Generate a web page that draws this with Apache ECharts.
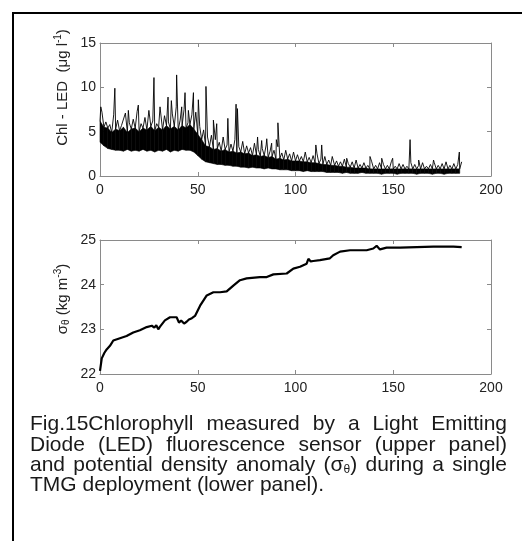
<!DOCTYPE html>
<html>
<head>
<meta charset="utf-8">
<script src="https://cdn.jsdelivr.net/npm/echarts@6/dist/echarts.min.js"></script>
<style>
  html, body { margin: 0; padding: 0; background: #fff; }
  #chart { width: 522px; height: 541px; }
</style>
</head>
<body>
<div id="chart"></div>
<script>
// upper panel: Chl-LED (days 0..185)
// bottom edge of the trace, x = 0,2,4..184
const chlLow = [
    3.8, 3.4, 3.1, 3.0, 2.9, 2.9, 2.8, 3.0, 2.8, 2.9,
    2.8, 3.0, 2.8, 2.9, 2.7, 2.9, 2.8, 3.0, 2.7, 2.9,
    2.8, 3.0, 2.9, 2.9, 2.7, 2.3, 1.9, 1.6, 1.5, 1.4,
    1.3, 1.3, 1.2, 1.2, 1.1, 1.1, 1.0, 1.0, 0.9, 1.0,
    0.9, 0.9, 0.8, 0.9, 0.8, 0.8, 0.7, 0.7, 0.7, 0.6,
    0.6, 0.6, 0.5, 0.6, 0.5, 0.5, 0.5, 0.5, 0.4, 0.4,
    0.4, 0.4, 0.3, 0.4, 0.3, 0.3, 0.3, 0.4, 0.3, 0.3,
    0.3, 0.3, 0.2, 0.3, 0.3, 0.3, 0.2, 0.3, 0.3, 0.3,
    0.3, 0.2, 0.3, 0.3, 0.3, 0.2, 0.3, 0.3, 0.2, 0.3,
    0.3, 0.3, 0.3
];
// top of the solid dark core, x = 0,2,4..184
const chlCore = [
    6.2, 5.5, 5.4, 4.9, 5.3, 5.1, 5.5, 4.9, 5.3, 5.4,
    5.0, 5.4, 5.2, 5.6, 5.1, 5.5, 5.2, 5.7, 5.3, 5.6,
    5.2, 5.7, 5.4, 5.8, 5.3, 4.7, 4.1, 3.4, 3.3, 3.0,
    3.1, 2.8, 3.0, 2.7, 2.8, 2.6, 2.7, 2.5, 2.6, 2.3,
    2.4, 2.2, 2.3, 2.1, 2.2, 1.9, 2.0, 1.8, 1.9, 1.7,
    1.7, 1.7, 1.6, 1.6, 1.5, 1.5, 1.4, 1.3, 1.3, 1.2,
    1.2, 1.1, 1.1, 1.0, 1.0, 0.9, 0.9, 0.9, 0.9, 0.8,
    0.8, 0.8, 0.8, 0.8, 0.8, 0.8, 0.8, 0.8, 0.8, 0.8,
    0.8, 0.8, 0.8, 0.8, 0.8, 0.8, 0.8, 0.8, 0.8, 0.8,
    0.8, 0.8, 0.8
];
// small peaks on top of the core, x = 1,3,5..185
const chlHigh = [
    7.2, 6.1, 5.8, 6.9, 6.3, 5.7, 7.1, 6.0, 6.4, 7.3,
    5.9, 6.6, 7.4, 6.2, 5.9, 7.6, 6.8, 6.1, 7.0, 7.8,
    6.3, 7.5, 6.0, 6.9, 7.2, 5.6, 5.2, 4.4, 4.6, 4.1,
    3.8, 4.4, 3.5, 3.6, 4.1, 3.3, 3.9, 3.4, 3.2, 3.7,
    3.0, 3.1, 3.5, 2.8, 2.9, 3.3, 2.6, 2.9, 2.5, 2.7,
    2.4, 2.2, 2.7, 2.1, 2.3, 2.5, 1.9, 2.2, 1.8, 2.1,
    1.7, 1.6, 1.9, 1.4, 1.6, 1.8, 1.3, 1.5, 1.2, 1.6,
    1.2, 1.5, 1.3, 1.2, 1.6, 1.1, 1.4, 1.3, 1.1, 1.5,
    1.3, 1.2, 1.5, 1.1, 1.3, 1.5, 1.2, 1.4, 1.6, 1.2,
    1.4, 1.3, 1.6
];
// isolated spikes [day, value]
const chlSpikes = [
    [0.4, 7.8], [7.6, 9.9], [14.5, 7.4], [19.6, 8.0], [27.6, 11.1], [30.7, 7.8],
    [34.8, 8.9], [36.5, 8.5], [39.2, 11.4], [41.8, 7.8], [43.5, 9.4], [45.2, 7.4],
    [47.8, 9.4], [50.3, 8.6], [54.2, 10.1], [58.0, 6.3], [59.7, 5.9], [65.4, 6.5],
    [69.6, 8.1], [70.3, 7.6], [80.6, 4.4], [82.7, 4.0], [85.3, 4.2], [87.8, 3.7],
    [90.2, 4.1], [91.0, 6.0], [110.4, 3.5], [113.4, 3.5], [118.8, 2.2], [126.2, 2.0],
    [138.1, 2.2], [144.1, 2.0], [149.7, 2.0], [158.6, 4.1], [163.0, 1.8], [170.6, 1.8],
    [183.8, 2.7]
];

// lower panel: sigma-theta
const sigmaDays = [
    0, 0.9, 2.2, 3.4, 5.1, 5.9, 6.8, 10.2, 13.6, 17,
    20.4, 23.9, 26.5, 27.8, 28.8, 29.8, 30.7, 31.5, 33.2, 35.8,
    39.2, 40.4, 41.5, 43, 44.3, 45.5, 47, 48.6, 51.2, 54.6,
    58, 61.4, 64.8, 68.2, 71.6, 75, 81.8, 85.3, 88.7, 95.5,
    98.9, 102.3, 105.7, 106.6, 107.8, 109.1, 112.5, 117.6, 119.3, 122.8,
    127.9, 136.4, 139.8, 141.5, 143.2, 146.6, 153.5, 170.5, 180.8, 185
];
const sigmaTheta = [
    22.07, 22.35, 22.47, 22.55, 22.63, 22.66, 22.75, 22.8, 22.85, 22.93,
    22.98, 23.05, 23.08, 23.04, 23.09, 23.0, 23.06, 23.1, 23.2, 23.27,
    23.27, 23.15, 23.2, 23.13, 23.17, 23.22, 23.25, 23.3, 23.53, 23.76,
    23.83, 23.83, 23.85, 23.98, 24.1, 24.14, 24.17, 24.17, 24.23, 24.25,
    24.36, 24.4, 24.47, 24.58, 24.52, 24.53, 24.55, 24.59, 24.66, 24.74,
    24.77, 24.77, 24.81, 24.87, 24.79, 24.83, 24.83, 24.85, 24.85, 24.84
];

const xTicks = [0, 50, 100, 150, 200];
const chlTicks = [0, 5, 10, 15];
const sigmaTicks = [22, 23, 24, 25];

const captionLines = [
    ['Fig.15Chlorophyll', 'measured', 'by', 'a', 'Light', 'Emitting'],
    ['Diode', '(LED)', 'fluorescence', 'sensor', '(upper', 'panel)'],
    ['and', 'potential', 'density', 'anomaly', '(σ{θ})', 'during', 'a', 'single'],
    ['TMG', 'deployment', '(lower', 'panel).']
];

// solid core: one quad per step between the bottom edge and the core top
let bandData = [];
for (let i = 0; i < chlLow.length - 1; i++) {
    bandData.push([i * 2, chlLow[i], chlCore[i], i * 2 + 2, chlLow[i + 1], chlCore[i + 1]]);
}
// thin trace on top: core -> peak -> core, plus the isolated spikes
let chlData = [];
chlCore.forEach((v, i) => chlData.push([i * 2, v]));
chlHigh.forEach((v, i) => chlData.push([i * 2 + 1, v]));
chlSpikes.forEach(p => chlData.push(p));
chlData.sort((a, b) => a[0] - b[0]);

const sigmaData = sigmaDays.map((d, i) => [d, sigmaTheta[i]]);

const FONT = '"Liberation Sans", Arial, Helvetica, sans-serif';
const axisGray = '#8a8a8a';
const labelColor = '#222';

function bottomAxis(grid, ticks) {
    return {
        type: 'value', gridIndex: grid, position: 'bottom',
        min: ticks[0], max: ticks[ticks.length - 1], interval: ticks[1] - ticks[0],
        axisLine: { onZero: false, lineStyle: { color: axisGray, width: 1 } },
        axisTick: { inside: true, length: 4, lineStyle: { color: axisGray } },
        axisLabel: { color: labelColor, fontSize: 14, fontFamily: FONT, margin: 7 },
        splitLine: { show: false }
    };
}
function topAxis(grid, ticks) {
    return {
        type: 'value', gridIndex: grid, position: 'top',
        min: ticks[0], max: ticks[ticks.length - 1], interval: ticks[1] - ticks[0],
        axisLine: { onZero: false, lineStyle: { color: axisGray, width: 1 } },
        axisTick: { inside: true, length: 4, lineStyle: { color: axisGray } },
        axisLabel: { show: false },
        splitLine: { show: false }
    };
}
function leftAxis(grid, ticks, name, rich, pad) {
    return {
        type: 'value', gridIndex: grid, position: 'left',
        min: ticks[0], max: ticks[ticks.length - 1], interval: ticks[1] - ticks[0],
        name: name, nameLocation: 'middle', nameGap: 28, nameMoveOverlap: false,
        nameTextStyle: { color: labelColor, fontSize: 15, fontFamily: FONT, rich: rich, padding: pad },
        axisLine: { onZero: false, lineStyle: { color: axisGray, width: 1 } },
        axisTick: { inside: true, length: 4, lineStyle: { color: axisGray } },
        axisLabel: { color: labelColor, fontSize: 14, fontFamily: FONT, margin: 4 },
        splitLine: { show: false }
    };
}
function rightAxis(grid, ticks) {
    return {
        type: 'value', gridIndex: grid, position: 'right',
        min: ticks[0], max: ticks[ticks.length - 1], interval: ticks[1] - ticks[0],
        axisLine: { onZero: false, lineStyle: { color: axisGray, width: 1 } },
        axisTick: { inside: true, length: 4, lineStyle: { color: axisGray } },
        axisLabel: { show: false },
        splitLine: { show: false }
    };
}

// caption, justified word by word
const ctx = document.createElement('canvas').getContext('2d');
function textWidth(s, size) {
    ctx.font = size + 'px ' + FONT;
    return ctx.measureText(s).width;
}
const capSize = 21, subSize = 12;
const capLeft = 30, capRight = 507;
const capY = [424, 445, 465, 485];
function wordParts(w) {
    return w.split(/(\{[^}]*\})/).filter(s => s.length).map(s => {
        if (s[0] === '{') return { t: s.slice(1, -1), size: subSize, dy: 5 };
        return { t: s, size: capSize, dy: 0 };
    });
}
function wordWidth(w) {
    return wordParts(w).reduce((a, p) => a + textWidth(p.t, p.size), 0);
}
let captionEls = [];
captionLines.forEach((line, li) => {
    const widths = line.map(wordWidth);
    const total = widths.reduce((a, b) => a + b, 0);
    const last = li === captionLines.length - 1;
    const gap = last ? textWidth(' ', capSize) : (capRight - capLeft - total) / (line.length - 1);
    let x = capLeft;
    line.forEach((w, wi) => {
        let px = x;
        wordParts(w).forEach(p => {
            captionEls.push({
                type: 'text', x: px, y: capY[li] + p.dy, silent: true,
                style: {
                    text: p.t, fill: '#1a1a1a', fontSize: p.size, fontFamily: FONT,
                    textAlign: 'left', textVerticalAlign: 'middle'
                }
            });
            px += textWidth(p.t, p.size);
        });
        x += widths[wi] + gap;
    });
});

let myChart = echarts.init(document.getElementById('chart'));
let option = {
    animation: false,
    backgroundColor: '#fff',
    grid: [
        { left: 100, top: 43, width: 391, height: 133 },
        { left: 100, top: 240, width: 391, height: 134 }
    ],
    xAxis: [
        bottomAxis(0, xTicks), topAxis(0, xTicks),
        bottomAxis(1, xTicks), topAxis(1, xTicks)
    ],
    yAxis: [
        leftAxis(0, chlTicks, 'Chl - LED  (μg l{sup|-1})',
            { sup: { fontSize: 10, fontFamily: FONT, color: labelColor, padding: [0, 0, 9, 0] } },
            [0, 0, 0, 44]),
        rightAxis(0, chlTicks),
        leftAxis(1, sigmaTicks, 'σ{sub|θ} (kg m{sup|-3})',
            {
                sub: { fontSize: 10, fontFamily: FONT, color: labelColor, padding: [8, 0, 0, 0] },
                sup: { fontSize: 10, fontFamily: FONT, color: labelColor, padding: [0, 0, 9, 0] }
            },
            [0, 0, 0, 16]),
        rightAxis(1, sigmaTicks)
    ],
    graphic: [
        {
            type: 'rect', silent: true, z: -1,
            shape: { x: 13, y: 13, width: 620, height: 620 },
            style: { fill: 'none', stroke: '#000', lineWidth: 2 }
        }
    ].concat(captionEls),
    series: [
        {
            type: 'custom', xAxisIndex: 0, yAxisIndex: 0, silent: true,
            data: bandData,
            encode: { x: [0, 3], y: [1, 2, 4, 5] },
            renderItem: function (params, api) {
                const p1 = api.coord([api.value(0), api.value(1)]);
                const p2 = api.coord([api.value(3), api.value(4)]);
                const p3 = api.coord([api.value(3), api.value(5)]);
                const p4 = api.coord([api.value(0), api.value(2)]);
                return {
                    type: 'polygon',
                    shape: { points: [p1, p2, p3, p4] },
                    style: { fill: '#000', stroke: '#000', lineWidth: 0.6 }
                };
            }
        },
        {
            type: 'line', xAxisIndex: 0, yAxisIndex: 0,
            data: chlData, showSymbol: false,
            lineStyle: { color: '#000', width: 0.9 }
        },
        {
            type: 'line', xAxisIndex: 2, yAxisIndex: 2,
            data: sigmaData, showSymbol: false,
            lineStyle: { color: '#000', width: 2.2 }
        }
    ]
};
myChart.setOption(option);
</script>
</body>
</html>
